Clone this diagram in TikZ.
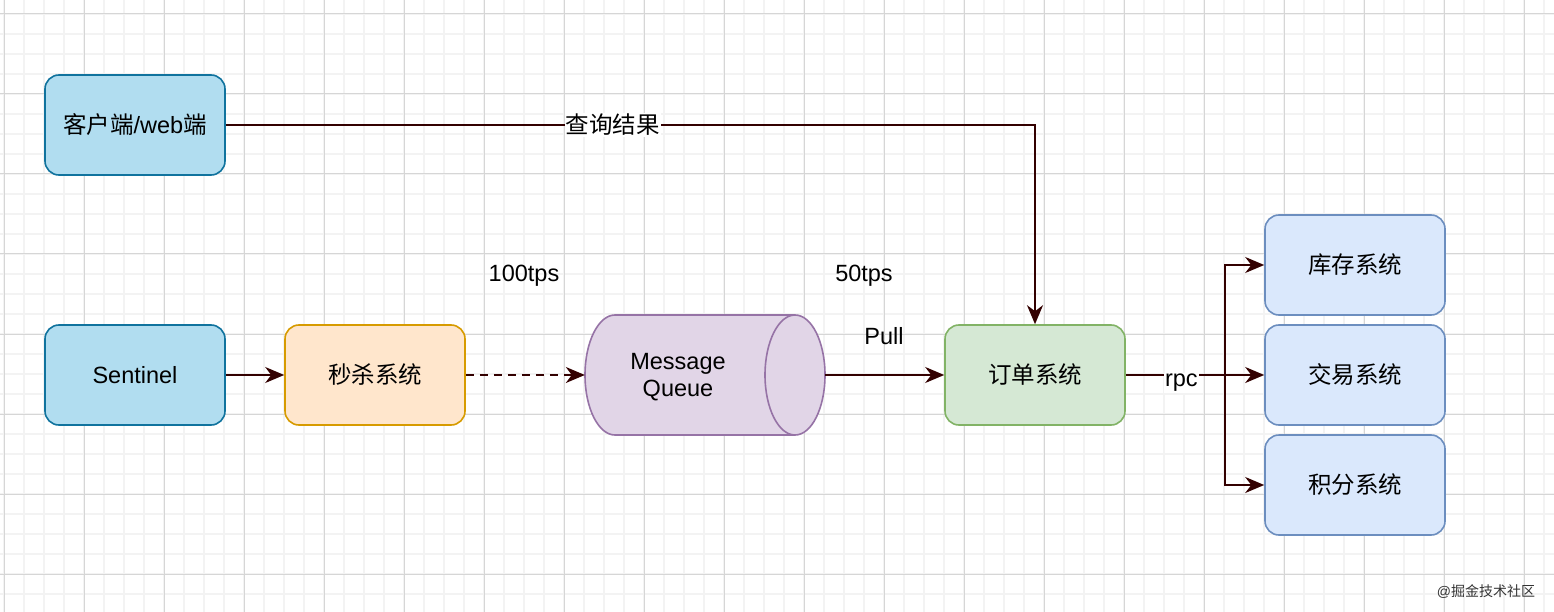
\documentclass[tikz,border=0pt]{standalone}
\usepackage{fontspec}
\setmainfont{Liberation Sans}
\newfontfamily\cjk{Noto Sans CJK SC}
\usetikzlibrary{arrows.meta}
\definecolor{edgec}{HTML}{330000}
\definecolor{minorg}{HTML}{F3F3F3}
\definecolor{majorg}{HTML}{D6D6D6}
\definecolor{bluefill}{HTML}{B1DDF0}\definecolor{bluedraw}{HTML}{10739E}
\definecolor{orfill}{HTML}{FFE6CC}\definecolor{ordraw}{HTML}{D79B00}
\definecolor{pufill}{HTML}{E1D5E7}\definecolor{pudraw}{HTML}{9673A6}
\definecolor{grfill}{HTML}{D5E8D4}\definecolor{grdraw}{HTML}{82B366}
\definecolor{lbfill}{HTML}{DAE8FC}\definecolor{lbdraw}{HTML}{6C8EBF}
\newcommand\myfs{\fontsize{23.5}{27.5}\selectfont}
\tikzset{
  minorline/.style={draw=minorg, line width=1.2pt},
  majorline/.style={draw=majorg, line width=1pt},
  box/.style={rounded corners=14pt, minimum width=180pt, minimum height=100pt, line width=1.6pt, font=\myfs, inner sep=0pt},
  bluebox/.style={box, fill=bluefill, draw=bluedraw},
  orbox/.style={box, fill=orfill, draw=ordraw},
  grbox/.style={box, fill=grfill, draw=grdraw},
  lbbox/.style={box, fill=lbfill, draw=lbdraw},
  arr/.style={draw=edgec, line width=1.8pt, -{Stealth[length=19pt,width=16pt,inset=6pt]}},
  conn/.style={draw=edgec, line width=1.8pt},
  lbl/.style={font=\myfs, inner sep=1pt},
}
\begin{document}
\begin{tikzpicture}[x=1pt,y=-1pt]
\useasboundingbox (0,0) rectangle (1554,612);
\fill[white] (0,0) rectangle (1554,612);
% grid
\foreach \i in {0,...,77} { \draw[minorline] ({4+20*\i},0) -- ({4+20*\i},612); }
\foreach \j in {0,...,29} { \draw[minorline] (0,{14+20*\j}) -- (1554,{14+20*\j}); }
\foreach \i in {0,...,19} { \draw[majorline] ({4+80*\i},0) -- ({4+80*\i},612); }
\foreach \j in {0,...,7} { \draw[majorline] (0,{14+80*\j}) -- (1554,{14+80*\j}); }

% nodes
\node[bluebox] (cli) at (135,125) {{\cjk 客户端}/web{\cjk 端}};
\node[bluebox] (sen) at (135,375) {Sentinel};
\node[orbox] (ms) at (375,375) {\cjk 秒杀系统};
\node[grbox] (ord) at (1035,375) {\cjk 订单系统};
\node[lbbox] (kc) at (1355,265) {\cjk 库存系统};
\node[lbbox] (jy) at (1355,375) {\cjk 交易系统};
\node[lbbox] (jf) at (1355,485) {\cjk 积分系统};

% message queue cylinder
\filldraw[fill=pufill, draw=pudraw, line width=1.6pt]
  (615,315) -- (795,315) arc[start angle=90, end angle=-90, x radius=30, y radius=-60]
  -- (615,435) arc[start angle=-90, end angle=-270, x radius=30, y radius=-60] -- cycle;
\draw[draw=pudraw, line width=1.6pt] (795,315) arc[start angle=90, end angle=270, x radius=30, y radius=-60];
\node[inner sep=0pt, minimum width=240pt, minimum height=120pt] (mq) at (705,375) {};
\node[font=\myfs, align=center, inner sep=0pt] (mqt) at (678,377) {Message\\Queue};

% edges
\draw[arr] (sen.east) -- (ms.west);
\draw[arr, dash pattern=on 8pt off 6pt] (ms.east) -- (mq.west);
\draw[arr] (mq.east) -- (ord.west);
\draw[arr] (cli.east) -| node[pos=0.239, lbl, fill=white] {\cjk 查询结果} (ord.north);
\coordinate (sp) at (1225,375);
\draw[conn] (ord.east) -- node[pos=0.56, lbl, fill=white, yshift=-8pt] {rpc} (sp);
\draw[arr] (sp) |- (kc.west);
\draw[arr] (sp) -- (jy.west);
\draw[arr] (sp) |- (jf.west);

% labels
\node[lbl] (l100) at (524,276) {100tps};
\node[lbl] (l50) at (864,276) {50tps};
\node[lbl] (lpull) at (884,336) {Pull};

% watermark
\node[font=\fontsize{14}{16}\selectfont, text=black!80, inner sep=0pt] (wm) at (1486,592) {@{\cjk 掘金技术社区}};
\end{tikzpicture}
\end{document}
